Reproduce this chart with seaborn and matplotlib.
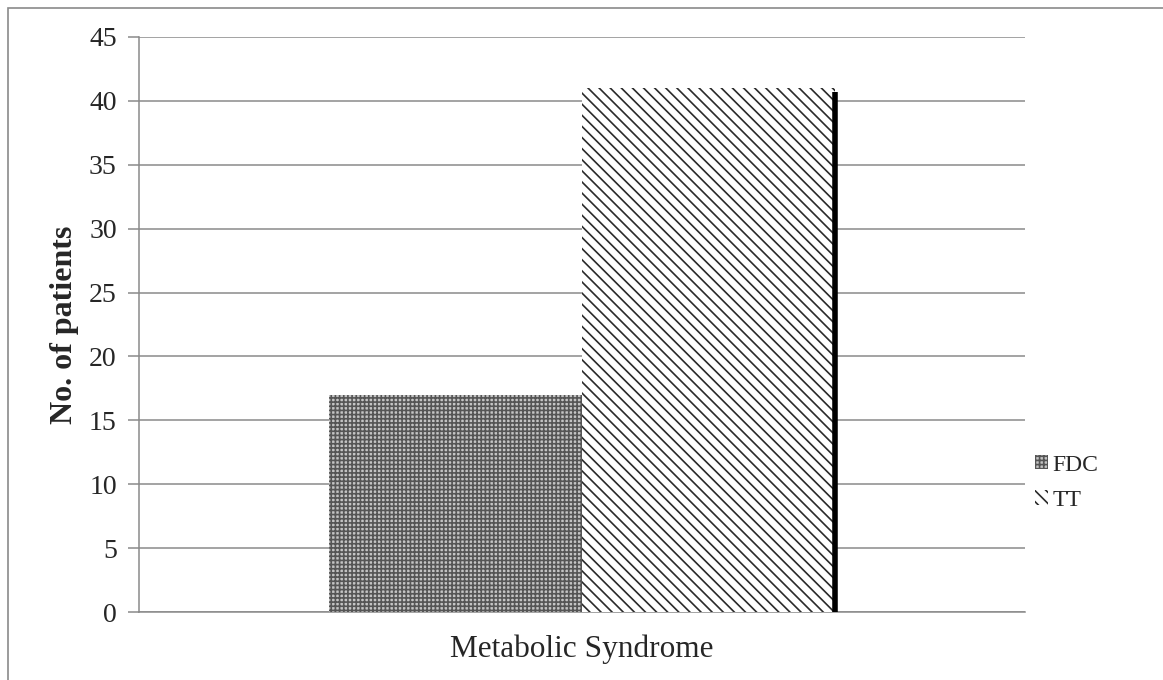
import matplotlib
matplotlib.use("Agg")
import matplotlib.pyplot as plt
from matplotlib.patches import Rectangle, Patch
import seaborn as sns
import pandas as pd

categories = ["Metabolic Syndrome"]
groups = ["FDC", "TT"]
patients = [17, 41]
y_ticks = [0, 5, 10, 15, 20, 25, 30, 35, 40, 45]

df = pd.DataFrame({
    "category": categories * len(groups),
    "group": groups,
    "patients": patients,
})

sns.set_theme(style="white")
plt.rcParams["font.family"] = ["Liberation Serif", "DejaVu Serif"]
plt.rcParams["hatch.linewidth"] = 1.2

fig = plt.figure(figsize=(11.63, 6.80), dpi=100)
ax = fig.add_axes([0.1195, 0.1, 0.7618, 0.8456])

sns.barplot(data=df, x="category", y="patients", hue="group",
            hue_order=groups, width=0.571, gap=0, dodge=True,
            ax=ax, legend=False, saturation=1)

styles = {
    "FDC": dict(face="#c4c4c4", hatch="++++", hcol="#555555"),
    "TT": dict(face="white", hatch="\\\\\\", hcol="#2a2a2a"),
}
for patch, grp in zip(ax.patches, groups):
    st = styles[grp]
    patch.set_facecolor(st["face"])
    patch.set_hatch(st["hatch"])
    patch.set_edgecolor(st["hcol"])
    patch.set_linewidth(0)
    patch.set_zorder(3)

# Dark shadow along the right side of the TT bar
tt = ax.patches[1]
xr = tt.get_x() + tt.get_width()
ax.vlines(xr, 0, tt.get_height() - 0.3, colors="black", linewidth=4, zorder=4)

ax.set_ylim(0, 45)
ax.set_xlim(-0.5, 0.5)
ax.set_yticks(y_ticks)
ax.yaxis.grid(True, color="#8a8a8a", linewidth=1.1, zorder=0)
ax.set_axisbelow(True)

for side in ["top", "right"]:
    ax.spines[side].set_visible(False)
for side in ["left", "bottom"]:
    ax.spines[side].set_color("#8a8a8a")
    ax.spines[side].set_linewidth(1.1)

ax.tick_params(axis="y", length=8, width=1.1, color="#8a8a8a",
               labelsize=20, pad=8, left=True)
ax.tick_params(axis="x", length=0, labelsize=22.5, pad=16)
ax.set_xlabel("")
ax.set_ylabel("No. of patients", fontsize=23, fontweight="bold", labelpad=7)

handles = []
for grp in groups:
    st = styles[grp]
    handles.append(Patch(facecolor=st["face"], edgecolor=st["hcol"],
                         hatch=st["hatch"], linewidth=0, label=grp))
leg = fig.legend(handles=handles, loc="center left",
                 bbox_to_anchor=(0.8715, 0.29), frameon=False,
                 fontsize=17, handlelength=0.55, handleheight=0.55,
                 handletextpad=0.2, labelspacing=0.6)

# Outer chart border
fig.patches.append(Rectangle((8 / 1163, -0.05), 1.2, 0.05 + 672 / 680,
                             transform=fig.transFigure, fill=False,
                             edgecolor="#8a8a8a", linewidth=1.2))

fig.savefig("out.png", dpi=100)
